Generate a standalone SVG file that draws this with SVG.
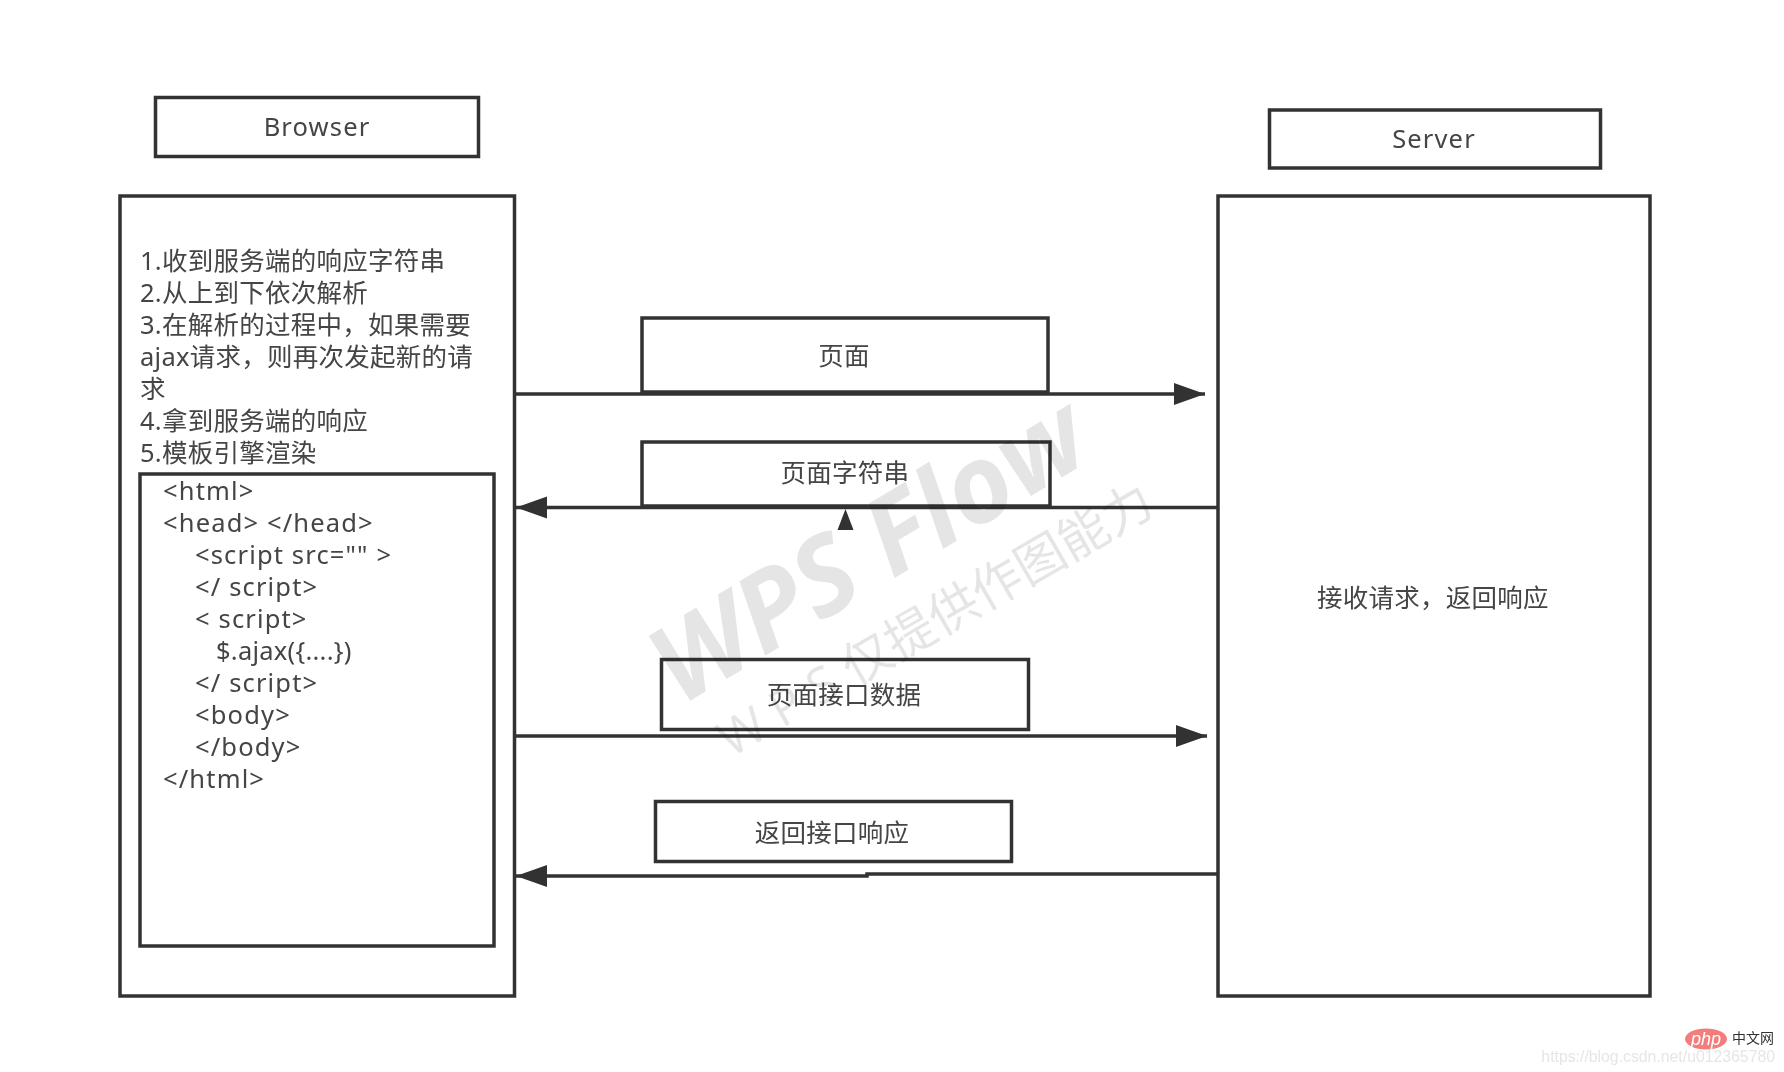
<svg xmlns="http://www.w3.org/2000/svg" width="1784" height="1072" viewBox="0 0 1784 1072">
<style>
.b{fill:#fff;stroke:#333;stroke-width:3.5}
.t{font-family:"Noto Sans","Noto Sans CJK SC",sans-serif;font-size:25.5px;fill:#444;white-space:pre;letter-spacing:.25px}
.l{letter-spacing:1.15px}
.m{text-anchor:middle}
.c{fill:none;stroke:#333;stroke-width:3.5}
.wm{font-family:"Open Sans","Noto Sans CJK SC",sans-serif;fill:#000;fill-opacity:.1;text-anchor:middle}
</style>
<defs>
<marker id="a" markerUnits="userSpaceOnUse" markerWidth="34" markerHeight="24" refX="31" refY="12" orient="auto"><path d="M0 1L31 12L0 23Z" fill="#333"/></marker>
<filter id="soft" filterUnits="userSpaceOnUse" x="0" y="0" width="1784" height="1072"><feGaussianBlur stdDeviation=".55"/></filter>
</defs>
<rect width="1784" height="1072" fill="#fff"/>
<g filter="url(#soft)">
<g id="browser-title"><rect class="b" x="155.500" y="97.500" width="323" height="59"/><text class="t m l" x="317" y="136">Browser</text></g>
<g id="server-title"><rect class="b" x="1269.500" y="110" width="331" height="58"/><text class="t m l" x="1434" y="148">Server</text></g>
<g id="browser"><rect class="b" x="120" y="196" width="394.500" height="800"/>
<text class="t" x="140" y="270">1.收到服务端的响应字符串</text>
<text class="t" x="140" y="302">2.从上到下依次解析</text>
<text class="t" x="140" y="334">3.在解析的过程中，如果需要</text>
<text class="t" x="140" y="366">ajax请求，则再次发起新的请</text>
<text class="t" x="140" y="398">求</text>
<text class="t" x="140" y="430">4.拿到服务端的响应</text>
<text class="t" x="140" y="462">5.模板引擎渲染</text>
</g>
<g id="server"><rect class="b" x="1218" y="196" width="432" height="800"/><text class="t m" x="1433" y="607">接收请求，返回响应</text></g>
<g id="code"><rect x="140" y="474" width="354" height="472" fill="none" stroke="#333" stroke-width="3.500"/>
<text class="t l" x="163" y="500">&lt;html&gt;</text>
<text class="t l" x="163" y="532">&lt;head&gt; &lt;/head&gt;</text>
<text class="t l" x="195" y="564">&lt;script src="" &gt;</text>
<text class="t l" x="195" y="596">&lt;/ script&gt;</text>
<text class="t l" x="195" y="628">&lt; script&gt;</text>
<text class="t" x="216" y="660">$.ajax({....})</text>
<text class="t l" x="195" y="692">&lt;/ script&gt;</text>
<text class="t l" x="195" y="724">&lt;body&gt;</text>
<text class="t l" x="195" y="756">&lt;/body&gt;</text>
<text class="t l" x="163" y="788">&lt;/html&gt;</text>
</g>
<g id="connectors">
<path class="c" d="M515 394H1205" marker-end="url(#a)"/>
<path class="c" d="M1218 507.500H516" marker-end="url(#a)"/>
<path class="c" d="M515 736H1207" marker-end="url(#a)"/>
<path class="c" d="M1218 874H867V876H516" marker-end="url(#a)"/>
<path d="M845.500 509L853.500 530H837.500Z" fill="#333"/>
</g>
<g id="n1"><rect class="b" x="642" y="318" width="406" height="74"/><text class="t m" x="844" y="365">页面</text></g>
<g id="n2"><rect class="b" x="642" y="442" width="408" height="64"/><text class="t m" x="845" y="482">页面字符串</text></g>
<g id="n3"><rect class="b" x="661.500" y="659.500" width="367" height="70"/><text class="t m" x="844" y="704">页面接口数据</text></g>
<g id="n4"><rect class="b" x="655.500" y="801.500" width="356" height="60"/><text class="t m" x="832" y="842">返回接口响应</text></g>
<g id="watermark">
<text class="wm" x="888" y="582" transform="rotate(-31 888 582)" font-size="108" font-weight="700" font-style="italic">WPS Flow</text>
<text class="wm" x="944" y="635" transform="rotate(-30 944 635)" font-size="50">W P S 仅提供作图能力</text>
</g>
<g id="logo">
<ellipse cx="1706" cy="1039" rx="21" ry="10.500" fill="#f47c7c"/>
<text x="1706" y="1045" font-family="Liberation Sans,sans-serif" font-size="18" font-style="italic" fill="#fff" text-anchor="middle">php</text>
<text x="1732" y="1043" font-family="Noto Sans CJK SC,sans-serif" font-size="14" fill="#333">中文网</text>
<text x="1775" y="1062" font-family="Liberation Sans,sans-serif" font-size="15.800" fill="#e6e6e6" text-anchor="end">https://blog.csdn.net/u012365780</text>
</g>
</g>
</svg>
